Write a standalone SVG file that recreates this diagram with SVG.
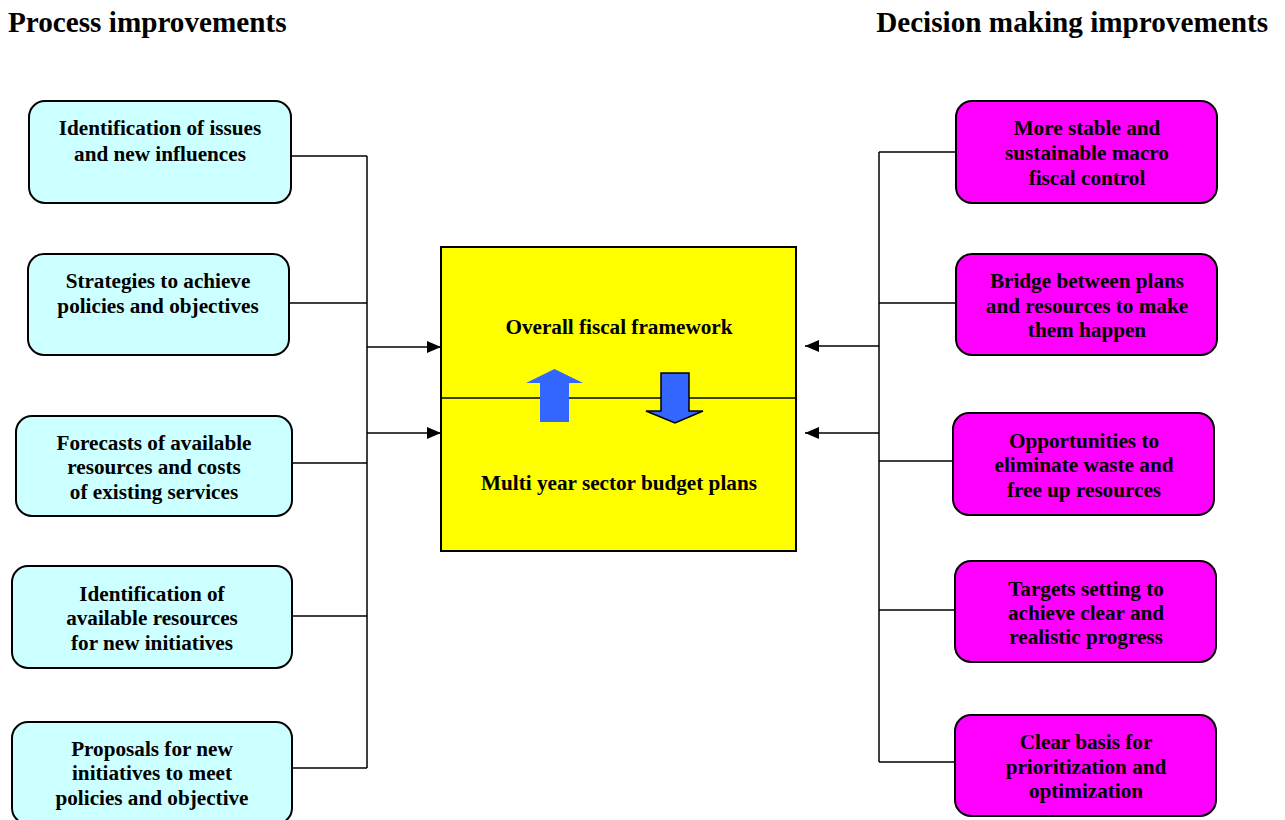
<svg xmlns="http://www.w3.org/2000/svg" width="1285" height="820" viewBox="0 0 1285 820">
  <defs>
    <marker id="arrowhead" viewBox="0 0 14 12" refX="14" refY="6" markerWidth="14" markerHeight="12" markerUnits="userSpaceOnUse" orient="auto">
      <path d="M0,0 L14,6 L0,12 Z" fill="#000"/>
    </marker>
    <style>
      text { font-family: "Liberation Serif", "Times New Roman", serif; font-weight: bold; fill: #000; }
      .head { font-size: 29.2px; }
      .lbl { font-size: 21.2px; text-anchor: middle; }
      .proc { fill: #CCFFFF; stroke: #000; stroke-width: 2; }
      .dec { fill: #FF00FF; stroke: #000; stroke-width: 2; }
      .core { fill: #FFFF00; stroke: #000; stroke-width: 2; }
      .wire { fill: none; stroke: #000; stroke-width: 1.5; }
    </style>
  </defs>
  <rect width="1285" height="820" fill="#fff"/>

  <text class="head" x="8" y="32">Process improvements</text>
  <text class="head" x="1268" y="32" text-anchor="end">Decision making improvements</text>

  <!-- connectors -->
  <g id="connectors">
    <path class="wire" d="M291,156 H367 M289,303 H367 M292,463 H367 M292,616 H367 M292,768 H367 M367,156 V768"/>
    <line class="wire" x1="367" y1="347" x2="441" y2="347" marker-end="url(#arrowhead)"/>
    <line class="wire" x1="367" y1="433" x2="441" y2="433" marker-end="url(#arrowhead)"/>
    <path class="wire" d="M956,152 H879 M956,303 H879 M953,461 H879 M955,610 H879 M955,762 H879 M879,152 V762"/>
    <line class="wire" x1="879" y1="346" x2="805" y2="346" marker-end="url(#arrowhead)"/>
    <line class="wire" x1="879" y1="433" x2="805" y2="433" marker-end="url(#arrowhead)"/>
  </g>

  <!-- process boxes -->
  <g id="p1">
    <rect class="proc" x="29" y="101" width="262" height="102" rx="16"/>
    <text class="lbl" x="160" y="135">Identification of issues</text>
    <text class="lbl" x="160" y="161">and new influences</text>
  </g>
  <g id="p2">
    <rect class="proc" x="28" y="254" width="261" height="101" rx="16"/>
    <text class="lbl" x="158" y="288">Strategies to achieve</text>
    <text class="lbl" x="158" y="313">policies and objectives</text>
  </g>
  <g id="p3">
    <rect class="proc" x="16" y="416" width="276" height="100" rx="16"/>
    <text class="lbl" x="154" y="450">Forecasts of available</text>
    <text class="lbl" x="154" y="474">resources and costs</text>
    <text class="lbl" x="154" y="499">of existing services</text>
  </g>
  <g id="p4">
    <rect class="proc" x="12" y="566" width="280" height="102" rx="16"/>
    <text class="lbl" x="152" y="601">Identification of</text>
    <text class="lbl" x="152" y="625">available resources</text>
    <text class="lbl" x="152" y="650">for new initiatives</text>
  </g>
  <g id="p5">
    <rect class="proc" x="12" y="722" width="280" height="102" rx="16"/>
    <text class="lbl" x="152" y="756">Proposals for new</text>
    <text class="lbl" x="152" y="780">initiatives to meet</text>
    <text class="lbl" x="152" y="805">policies and objective</text>
  </g>

  <!-- central budget box -->
  <g id="core">
    <rect class="core" x="441" y="247" width="355" height="304"/>
    <line x1="441" y1="398" x2="796" y2="398" stroke="#000" stroke-width="1.5"/>
    <text class="lbl" x="619" y="334">Overall fiscal framework</text>
    <text class="lbl" x="619" y="490">Multi year sector budget plans</text>
    <path d="M526,383 L554.5,369 L583,383 L569,383 L569,422 L540,422 L540,383 Z" fill="#3366FF"/>
    <path d="M661,373 L689,373 L689,411 L703,411 L675,423 L646,411 L661,411 Z" fill="#3366FF" stroke="#000" stroke-width="1.5" stroke-linejoin="miter"/>
  </g>

  <!-- decision boxes -->
  <g id="d1">
    <rect class="dec" x="956" y="101" width="261" height="102" rx="16"/>
    <text class="lbl" x="1087" y="135">More stable and</text>
    <text class="lbl" x="1087" y="160">sustainable macro</text>
    <text class="lbl" x="1087" y="185">fiscal control</text>
  </g>
  <g id="d2">
    <rect class="dec" x="956" y="254" width="261" height="101" rx="16"/>
    <text class="lbl" x="1087" y="288">Bridge between plans</text>
    <text class="lbl" x="1087" y="313">and resources to make</text>
    <text class="lbl" x="1087" y="337">them happen</text>
  </g>
  <g id="d3">
    <rect class="dec" x="953" y="413" width="261" height="102" rx="16"/>
    <text class="lbl" x="1084" y="448">Opportunities to</text>
    <text class="lbl" x="1084" y="472">eliminate waste and</text>
    <text class="lbl" x="1084" y="497">free up resources</text>
  </g>
  <g id="d4">
    <rect class="dec" x="955" y="561" width="261" height="101" rx="16"/>
    <text class="lbl" x="1086" y="596">Targets setting to</text>
    <text class="lbl" x="1086" y="620">achieve clear and</text>
    <text class="lbl" x="1086" y="644">realistic progress</text>
  </g>
  <g id="d5">
    <rect class="dec" x="955" y="715" width="261" height="101" rx="16"/>
    <text class="lbl" x="1086" y="749">Clear basis for</text>
    <text class="lbl" x="1086" y="774">prioritization and</text>
    <text class="lbl" x="1086" y="798">optimization</text>
  </g>
</svg>
